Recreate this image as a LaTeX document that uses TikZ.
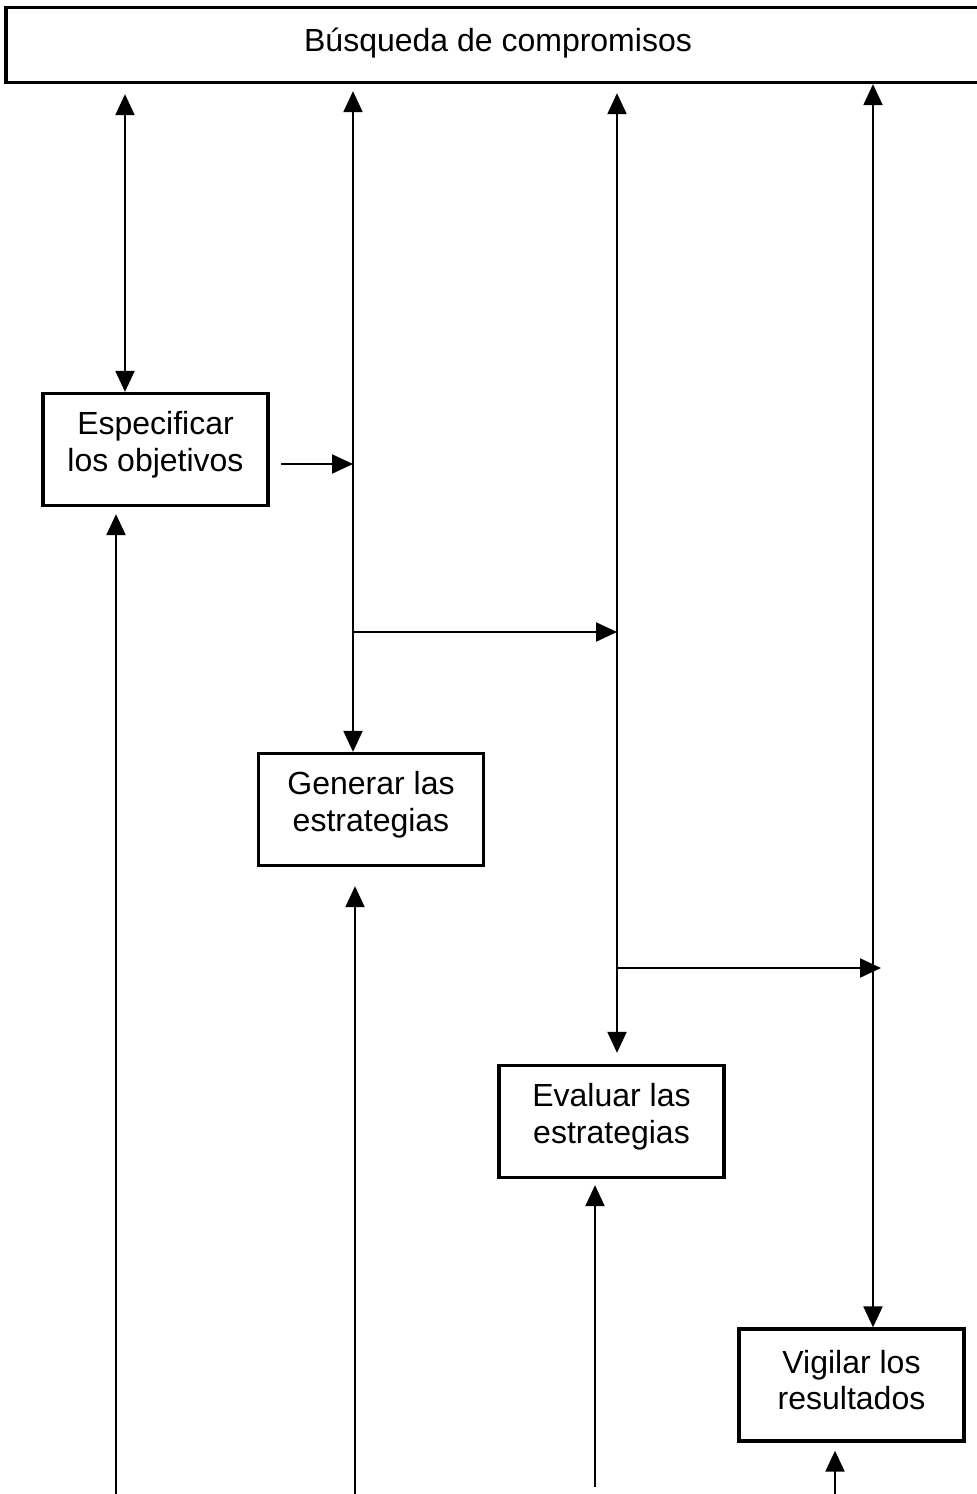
\documentclass[tikz,border=0pt]{standalone}
\usepackage{fontspec}
\setmainfont{Liberation Sans}
\usetikzlibrary{arrows.meta}
\begin{document}
\begin{tikzpicture}[x=1pt,y=-1pt,
  box/.style={draw,line width=3.3pt,minimum width=225pt,minimum height=112pt,inner sep=0pt},
  boxtext/.style={align=center,inner sep=0pt,font=\fontsize{32}{36.5}\selectfont},
  topbox/.style={draw,line width=3.3pt,minimum width=984pt,minimum height=75pt,inner sep=0pt},
  tip/.tip={Triangle[length=21pt,width=19pt]},
  arr/.style={line width=2.2pt,-tip},
  dbl/.style={line width=2.2pt,tip-tip}]
\useasboundingbox (0,0) rectangle (977,1494);
% boxes
\node[topbox] (top) at (498,45) {};
\node[boxtext] (top-t) at ([yshift=2pt]top.center) {Búsqueda de compromisos};
\node[box] (esp) at (155.5,449.5) {};
\node[boxtext] (esp-t) at ([yshift=5pt]esp.center) {Especificar\\los objetivos};
\node[box] (gen) at (371,809.5) {};
\node[boxtext] (gen-t) at ([yshift=5pt]gen.center) {Generar las\\estrategias};
\node[box] (eva) at (611.5,1121.5) {};
\node[boxtext] (eva-t) at ([yshift=5pt]eva.center) {Evaluar las\\estrategias};
\node[box] (vig) at (851.5,1385) {};
\node[boxtext] (vig-t) at ([yshift=5pt]vig.center) {Vigilar los\\resultados};
% column coordinates
\coordinate (c1) at (125,0);
\coordinate (c2) at (353,0);
\coordinate (c3) at (617,0);
\coordinate (c4) at (873,0);
% vertical double arrows
\draw[dbl,shorten <=10pt] (top.south -| c1) -- (esp.north -| c1);
\draw[dbl,shorten <=7pt] (top.south -| c2) -- (gen.north -| c2);
\draw[dbl,shorten <=9pt,shorten >=11pt] (top.south -| c3) -- (eva.north -| c3);
\draw[dbl] (top.south -| c4) -- (vig.north -| c4);
% horizontal arrows
\coordinate (j1) at (269,464);
\draw[arr,shorten <=12pt] (j1) -- (j1 -| c2);
\coordinate (j2) at (353,632);
\draw[arr] (j2) -- (j2 -| c3);
\coordinate (j3) at (617,968);
\draw[arr,shorten >=-8pt] (j3) -- (j3 -| c4);
% bottom incoming arrows
\coordinate (b1) at (116,1494);
\coordinate (b2) at (355,1494);
\coordinate (b3) at (595,1487);
\coordinate (b4) at (835,1494);
\draw[arr,shorten >=7pt] (b1) -- (b1 |- esp.south);
\draw[arr,shorten >=19pt] (b2) -- (b2 |- gen.south);
\draw[arr,shorten >=6pt] (b3) -- (b3 |- eva.south);
\draw[arr,shorten >=8pt] (b4) -- (b4 |- vig.south);
\end{tikzpicture}
\end{document}
